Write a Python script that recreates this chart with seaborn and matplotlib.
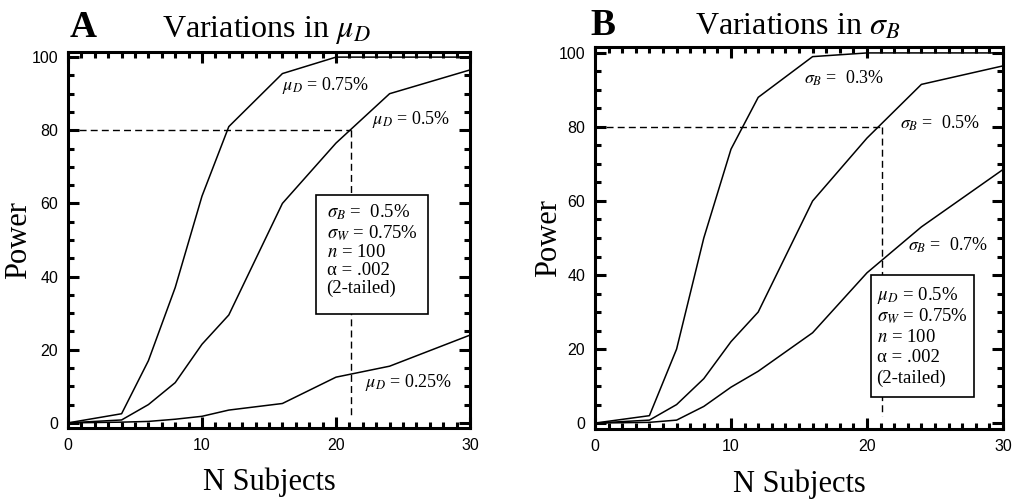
import matplotlib
matplotlib.use("Agg")
import matplotlib.pyplot as plt
import seaborn as sns
import pandas as pd
from matplotlib.patches import Rectangle
from matplotlib.ticker import MultipleLocator

# ---------------- data ----------------
n_subjects = [0, 4, 6, 8, 10, 12, 16, 20, 24, 30]

# Panel A: variations in mu_D
power_mu075 = [0, 2.5, 17, 37, 62, 81, 95.5, 100, 100, 100]
power_mu050 = [0, 0.8, 5, 11, 21.5, 29.5, 60, 76.5, 90, 96.5]
power_mu025 = [0, 0.2, 0.4, 1.0, 1.8, 3.5, 5.3, 12.5, 15.5, 24]

# Panel B: variations in sigma_B
power_sb03 = [0, 2, 20, 50, 74, 88, 99, 100, 100, 100]
power_sb05 = [0, 0.8, 5, 12, 22, 30, 60, 77, 91.5, 96.5]
power_sb07 = [0, 0.2, 0.8, 4.5, 9.7, 14, 24.4, 40.6, 53, 68.5]

labels_A = [r"$\mu_D$ = 0.75%", r"$\mu_D$ = 0.5%", r"$\mu_D$ = 0.25%"]
labels_B = [r"$\sigma_B$ =  0.3%", r"$\sigma_B$ =  0.5%", r"$\sigma_B$ =  0.7%"]
box_A = [r"$\sigma_B$ =  0.5%", r"$\sigma_W$ = 0.75%", r"$n$ = 100", "α = .002", "(2-tailed)"]
box_B = [r"$\mu_D$ = 0.5%", r"$\sigma_W$ = 0.75%", r"$n$ = 100", "α = .002", "(2-tailed)"]
target_power = 80
target_n = 21.1

# ---------------- style ----------------
sns.set_theme(style="ticks")
plt.rcParams["font.family"] = ["Liberation Serif", "DejaVu Serif"]
plt.rcParams["mathtext.fontset"] = "stix"
plt.rcParams["axes.linewidth"] = 2.2
for key in ["text.color", "axes.labelcolor", "xtick.color", "ytick.color",
            "axes.edgecolor", "xtick.labelcolor", "ytick.labelcolor"]:
    plt.rcParams[key] = "black"

fig = plt.figure(figsize=(10.15, 5.01), dpi=100)
axA = fig.add_axes([68 / 1015, 1 - 428 / 501, 402 / 1015, 376 / 501])
axB = fig.add_axes([595 / 1015, 1 - 429 / 501, 408 / 1015, 382 / 501])


def style_axes(ax, ylim, ylab_x):
    ax.set_xlim(0, 30)
    ax.set_ylim(*ylim)
    ax.xaxis.set_major_locator(MultipleLocator(10))
    ax.xaxis.set_minor_locator(MultipleLocator(1))
    ax.yaxis.set_major_locator(MultipleLocator(20))
    ax.yaxis.set_minor_locator(MultipleLocator(5))
    ax.tick_params(which="both", direction="in", top=True, right=True,
                   color="black", labelcolor="black", width=2.2)
    ax.tick_params(which="major", length=8, labelsize=11.5, pad=7)
    ax.tick_params(which="minor", length=4)
    for lab in ax.get_xticklabels() + ax.get_yticklabels():
        lab.set_fontfamily("Liberation Sans")
    for sp in ax.spines.values():
        sp.set_color("black")
        sp.set_visible(True)
    ax.set_xlabel("N Subjects", fontsize=22, color="black")
    ax.set_ylabel("Power", fontsize=22, color="black")
    ax.xaxis.set_label_coords(0.5, -0.145)
    ax.xaxis.label.set_va("center")
    ax.yaxis.set_label_coords(ylab_x, 0.5)
    ax.yaxis.label.set_va("center")
    ax.set_facecolor("white")


def draw_curves(ax, series):
    for vals in series:
        sns.lineplot(x=n_subjects, y=vals, ax=ax, color="black",
                     linewidth=1.1, estimator=None, sort=False, zorder=2)


def draw_target(ax):
    ax.plot([0, target_n], [target_power, target_power], color="black",
            lw=1.0, dashes=(5, 3), zorder=1)
    ax.plot([target_n, target_n], [target_power, 2], color="black",
            lw=1.0, dashes=(5, 3), zorder=1)


def draw_box(ax, x0, x1, y0, y1, lines, tx, ty):
    ax.add_patch(Rectangle((x0, y0), x1 - x0, y1 - y0, facecolor="white",
                           edgecolor="black", lw=1.2, zorder=3))
    for line, y in zip(lines, ty):
        ax.text(tx, y, line, fontsize=13.5, va="center", ha="left", zorder=4,
                color="black")


# Panel A
draw_curves(axA, [power_mu075, power_mu050, power_mu025])
draw_target(axA)
style_axes(axA, (-1.4, 101.4), -0.122)
draw_box(axA, 18.5, 26.9, 29.7, 62.4, box_A, 19.3,
         [57.7, 52.0, 46.6, 41.6, 36.7])
axA.text(16.0, 92.3, labels_A[0], fontsize=13, va="center", color="black")
axA.text(22.7, 83.0, labels_A[1], fontsize=13, va="center", color="black")
axA.text(22.2, 11.0, labels_A[2], fontsize=13, va="center", color="black")

# Panel B
draw_curves(axB, [power_sb03, power_sb05, power_sb07])
draw_target(axB)
style_axes(axB, (-1.6, 101.6), -0.115)
draw_box(axB, 20.3, 27.9, 7.1, 40.0, box_B, 20.7,
         [34.6, 28.9, 23.2, 17.8, 12.2])
axB.text(15.4, 93.2, labels_B[0], fontsize=13, va="center", color="black")
axB.text(22.4, 81.0, labels_B[1], fontsize=13, va="center", color="black")
axB.text(23.0, 48.0, labels_B[2], fontsize=13, va="center", color="black")

# Titles
fig.text(70 / 1015, 1 - 37 / 501, "A", fontsize=27, fontweight="bold",
         ha="left", va="baseline", color="black")
fig.text(162 / 1015, 1 - 37 / 501, r"Variations in $\mu_D$", fontsize=23,
         ha="left", va="baseline", color="black")
fig.text(590 / 1015, 1 - 35 / 501, "B", fontsize=27, fontweight="bold",
         ha="left", va="baseline", color="black")
fig.text(695 / 1015, 1 - 35 / 501, r"Variations in $\sigma_B$", fontsize=23,
         ha="left", va="baseline", color="black")

fig.savefig("out.png", dpi=100, facecolor="white")
